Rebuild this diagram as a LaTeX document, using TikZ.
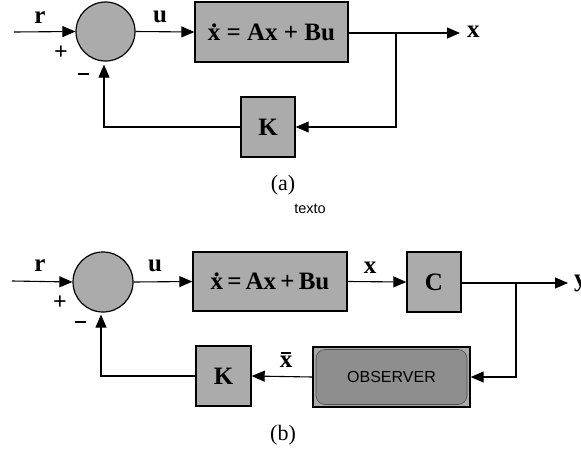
\documentclass[tikz,border=0pt]{standalone}
\usepackage{fontspec}
\setmainfont{Liberation Serif}
\newfontfamily\sansf{Liberation Sans}
\usetikzlibrary{arrows.meta}
\definecolor{stip}{HTML}{ABABAB}
\definecolor{obsin}{HTML}{8E8E8E}
\newcommand{\xdotx}{{\ooalign{x\cr\hidewidth\raisebox{0.52em}{.}\hidewidth\cr}}}
\newcommand{\xbarx}{{\ooalign{x\cr\hidewidth\raisebox{0.55em}{\rule{0.42em}{0.07em}}\hidewidth\cr}}}
\tikzset{
  blk/.style={draw=black, line width=1.4pt, fill=stip, inner sep=0pt, font=\fontsize{25}{27}\selectfont\bfseries},
  sumnode/.style={circle, draw=black, line width=1.2pt, fill=stip, minimum size=59pt, inner sep=0pt},
  sig/.style={line width=1.1pt, -{Triangle[length=13pt,width=11pt]}},
  lbl/.style={font=\fontsize{25}{27}\selectfont\bfseries, inner sep=0pt},
  sgn/.style={font=\fontsize{24}{26}\selectfont\bfseries, inner sep=0pt},
  capt/.style={font=\fontsize{22}{24}\selectfont, inner sep=0pt}
}
\newcommand{\minusbar}{\rule[0.5ex]{11pt}{1.6pt}}
\begin{document}
\begin{tikzpicture}[x=1pt,y=-1pt]
\useasboundingbox (0,0) rectangle (581,450);
% ---------- (a) ----------
\coordinate (ina) at (14,32);
\node[sumnode] (sa) at (105.5,31.5) {};
\node[blk, minimum width=153pt, minimum height=60pt] (pa) at (271.5,32) {\xdotx\ = Ax + Bu};
\node[blk, minimum width=54pt, minimum height=60pt] (ka) at (268,127) {K};
\coordinate (outa) at (460,33);
\coordinate (ba) at (396,33);
\coordinate (ca) at (104,127);
\draw[sig] (ina) -- (sa.west);
\draw[sig] (sa.east) -- (pa.west);
\draw[sig] (pa.east |- ba) -- (outa);
\draw[sig] (ba) |- (ka.east);
\draw[sig, shorten >=3pt] (ka.west) -- (ca) -- (ca |- sa.south);
\node[lbl] (ra) at (40,18) {r};
\node[lbl] (ua) at (160,17) {u};
\node[lbl, anchor=west] (xa) at (467,32) {x};
\node[sgn] (pla) at (61,53) {+};
\node[sgn] (mia) at (83,77) {\minusbar};
\node[capt] (capa) at (283,185) {(a)};
\node[font=\sansf\fontsize{14.5}{16}\selectfont, inner sep=0pt] (tx) at (310,209) {texto};
% ---------- (b) ----------
\coordinate (inb) at (12,281);
\node[sumnode, minimum size=60pt] (sb) at (103,282) {};
\node[blk, minimum width=154pt, minimum height=59pt] (pb) at (270,281.5) {\xdotx\,=\,Ax\,+\,Bu};
\node[blk, minimum width=54pt, minimum height=60pt] (cb) at (434,282) {C};
\node[draw=black, line width=1.4pt, fill=stip, minimum width=157pt, minimum height=60pt] (obo) at (391.5,377) {};
\node[draw=black!70, line width=0.6pt, fill=obsin, rounded corners=9pt, minimum width=151pt, minimum height=55pt, inner sep=0pt, font=\sansf\fontsize{16}{18}\selectfont] (ob) at (391.5,377) {OBSERVER};
\node[blk, minimum width=55pt, minimum height=60pt] (kb) at (223.5,376) {K};
\coordinate (outb) at (568,283);
\coordinate (bb) at (516,283);
\coordinate (cbb) at (101,376);
\draw[sig] (inb) -- (sb.west);
\draw[sig] (sb.east) -- (pb.west);
\draw[sig] (pb.east) -- (cb.west);
\draw[sig] (cb.east |- bb) -- (outb);
\draw[sig] (bb) |- (obo.east);
\draw[sig] (obo.west) -- (kb.east);
\draw[sig, shorten >=2pt] (kb.west) -- (cbb) -- (cbb |- sb.south);
\node[lbl] (rb) at (40,266) {r};
\node[lbl] (ub) at (155,266) {u};
\node[lbl] (xb) at (370,268) {x};
\node[lbl] (xbar) at (286,362) {\xbarx};
\node[lbl, anchor=west] (yb) at (574,283) {y};
\node[sgn] (plb) at (60,303) {+};
\node[sgn] (mib) at (80,325) {\minusbar};
\node[capt] (capb) at (283,435) {(b)};
\end{tikzpicture}
\end{document}
